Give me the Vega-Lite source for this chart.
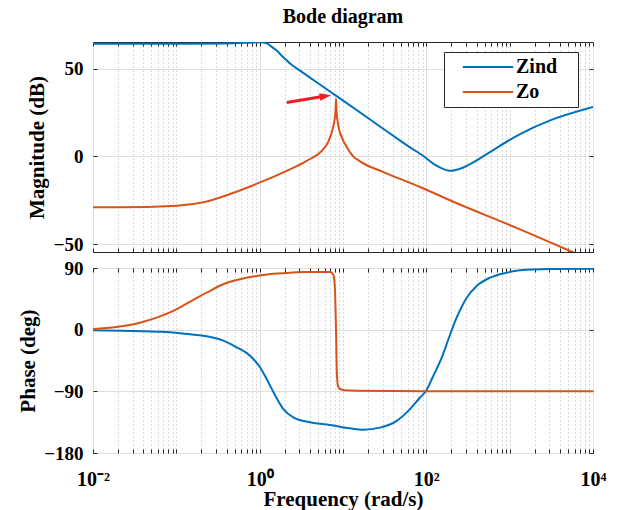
{
  "$schema": "https://vega.github.io/schema/vega-lite/v6.json",
  "padding": {"left": 17, "top": 6, "right": 15, "bottom": 0},
  "background": "white",
  "config": {
    "view": {"stroke": "#262626", "strokeWidth": 1},
    "axis": {
      "domain": false,
      "labelFont": "Liberation Serif", "labelFontWeight": "bold", "labelFontSize": 19, "labelColor": "#000",
      "titleFont": "Liberation Serif", "titleFontWeight": "bold", "titleFontSize": 21, "titleColor": "#000",
      "tickColor": "#262626", "tickSize": -4, "gridColor": "#dfdfdf", "gridWidth": 1
    },
    "line": {"strokeWidth": 2}
  },
  "datasets": {
    "mag": [
      {"f": 0.01, "db": 64.1, "s": "Zind"}, {"f": 0.1, "db": 64.1, "s": "Zind"}, {"f": 0.394, "db": 64.3, "s": "Zind"},
      {"f": 0.766, "db": 64.7, "s": "Zind"}, {"f": 1.0, "db": 64.9, "s": "Zind"}, {"f": 1.213, "db": 64.4, "s": "Zind"},
      {"f": 1.368, "db": 62.7, "s": "Zind"}, {"f": 1.6, "db": 60.2, "s": "Zind"}, {"f": 1.923, "db": 56.4, "s": "Zind"},
      {"f": 2.377, "db": 52.4, "s": "Zind"}, {"f": 3.048, "db": 48.8, "s": "Zind"}, {"f": 4.831, "db": 42.2, "s": "Zind"},
      {"f": 7.656, "db": 35.6, "s": "Zind"}, {"f": 12.13, "db": 29.0, "s": "Zind"}, {"f": 23.12, "db": 19.7, "s": "Zind"},
      {"f": 36.64, "db": 13.0, "s": "Zind"}, {"f": 58.07, "db": 6.4, "s": "Zind"}, {"f": 92.04, "db": 0.2, "s": "Zind"},
      {"f": 133.0, "db": -5.3, "s": "Zind"}, {"f": 192.3, "db": -8.2, "s": "Zind"}, {"f": 278.0, "db": -6.3, "s": "Zind"},
      {"f": 366.4, "db": -3.4, "s": "Zind"}, {"f": 529.7, "db": 1.3, "s": "Zind"}, {"f": 1330, "db": 12.7, "s": "Zind"},
      {"f": 3342, "db": 21.2, "s": "Zind"}, {"f": 10000, "db": 28.2, "s": "Zind"},
      {"f": 0.01, "db": -29.0, "s": "Zo"}, {"f": 0.0211, "db": -29.0, "s": "Zo"}, {"f": 0.101, "db": -28.1, "s": "Zo"},
      {"f": 0.211, "db": -26.1, "s": "Zo"}, {"f": 0.441, "db": -21.4, "s": "Zo"}, {"f": 1.009, "db": -14.8, "s": "Zo"},
      {"f": 2.109, "db": -8.2, "s": "Zo"}, {"f": 3.664, "db": -2.5, "s": "Zo"}, {"f": 5.808, "db": 4.1, "s": "Zo"},
      {"f": 6.607, "db": 8.0, "s": "Zo"}, {"f": 7.31, "db": 13.6, "s": "Zo"}, {"f": 7.8, "db": 19.0, "s": "Zo"},
      {"f": 8.02, "db": 23.0, "s": "Zo"}, {"f": 8.17, "db": 28.0, "s": "Zo"}, {"f": 8.24, "db": 32.7, "s": "Zo"},
      {"f": 8.36, "db": 26.0, "s": "Zo"}, {"f": 8.71, "db": 18.5, "s": "Zo"}, {"f": 9.64, "db": 11.0, "s": "Zo"},
      {"f": 11.07, "db": 5.5, "s": "Zo"}, {"f": 12.1, "db": 2.4, "s": "Zo"}, {"f": 13.18, "db": 0.2, "s": "Zo"},
      {"f": 16.0, "db": -2.8, "s": "Zo"}, {"f": 30.5, "db": -8.9, "s": "Zo"}, {"f": 84, "db": -17.4, "s": "Zo"},
      {"f": 211, "db": -25.8, "s": "Zo"}, {"f": 1330, "db": -41.5, "s": "Zo"}, {"f": 5058, "db": -53.4, "s": "Zo"},
      {"f": 10000, "db": -59.4, "s": "Zo"}
    ],
    "phase": [
      {"f": 0.01, "deg": -1.0, "s": "Zind"}, {"f": 0.058, "deg": -3.0, "s": "Zind"}, {"f": 0.084, "deg": -3.8, "s": "Zind"},
      {"f": 0.146, "deg": -6.7, "s": "Zind"}, {"f": 0.211, "deg": -8.8, "s": "Zind"}, {"f": 0.366, "deg": -16, "s": "Zind"},
      {"f": 0.53, "deg": -25.7, "s": "Zind"}, {"f": 0.766, "deg": -38, "s": "Zind"}, {"f": 1.01, "deg": -54.9, "s": "Zind"},
      {"f": 1.213, "deg": -72, "s": "Zind"}, {"f": 1.459, "deg": -91, "s": "Zind"}, {"f": 1.923, "deg": -115.8, "s": "Zind"},
      {"f": 2.535, "deg": -127.9, "s": "Zind"}, {"f": 4.02, "deg": -135.2, "s": "Zind"}, {"f": 6.98, "deg": -139.1, "s": "Zind"},
      {"f": 12.13, "deg": -144, "s": "Zind"}, {"f": 17.54, "deg": -146, "s": "Zind"}, {"f": 27.8, "deg": -143, "s": "Zind"},
      {"f": 44.1, "deg": -133, "s": "Zind"}, {"f": 63.7, "deg": -116, "s": "Zind"}, {"f": 84, "deg": -99, "s": "Zind"},
      {"f": 99, "deg": -89.5, "s": "Zind"}, {"f": 121, "deg": -67.6, "s": "Zind"}, {"f": 153, "deg": -40.9, "s": "Zind"},
      {"f": 184, "deg": -14, "s": "Zind"}, {"f": 231, "deg": 17.5, "s": "Zind"}, {"f": 305, "deg": 46.7, "s": "Zind"},
      {"f": 402, "deg": 63.8, "s": "Zind"}, {"f": 581, "deg": 75.9, "s": "Zind"}, {"f": 920, "deg": 83.2, "s": "Zind"},
      {"f": 1330, "deg": 86.7, "s": "Zind"}, {"f": 3048, "deg": 88.6, "s": "Zind"}, {"f": 10000, "deg": 89, "s": "Zind"},
      {"f": 0.01, "deg": 0.8, "s": "Zo"}, {"f": 0.0192, "deg": 3.9, "s": "Zo"}, {"f": 0.0366, "deg": 10.2, "s": "Zo"},
      {"f": 0.058, "deg": 17.5, "s": "Zo"}, {"f": 0.092, "deg": 27.3, "s": "Zo"}, {"f": 0.146, "deg": 40.9, "s": "Zo"},
      {"f": 0.231, "deg": 54, "s": "Zo"}, {"f": 0.366, "deg": 66.3, "s": "Zo"}, {"f": 0.581, "deg": 73.6, "s": "Zo"},
      {"f": 0.92, "deg": 78.4, "s": "Zo"}, {"f": 1.6, "deg": 81.8, "s": "Zo"}, {"f": 2.31, "deg": 83.2, "s": "Zo"},
      {"f": 3.5, "deg": 84, "s": "Zo"}, {"f": 5.3, "deg": 84.3, "s": "Zo"}, {"f": 6.98, "deg": 84.2, "s": "Zo"},
      {"f": 7.66, "deg": 80, "s": "Zo"}, {"f": 8.0, "deg": 60, "s": "Zo"}, {"f": 8.24, "deg": 0, "s": "Zo"},
      {"f": 8.45, "deg": -65, "s": "Zo"}, {"f": 8.7, "deg": -82, "s": "Zo"}, {"f": 9.2, "deg": -86.5, "s": "Zo"},
      {"f": 10.5, "deg": -88.5, "s": "Zo"}, {"f": 14.6, "deg": -89.3, "s": "Zo"}, {"f": 100, "deg": -90, "s": "Zo"},
      {"f": 10000, "deg": -90, "s": "Zo"}
    ],
    "arrow": [
      {"f": 2.11, "db": 30.7, "part": "shaft"}, {"f": 5.45, "db": 33.9, "part": "shaft"},
      {"f": 6.15, "db": 34.3, "part": "head"}
    ]
  },
  "bounds": "flush",
  "spacing": 16,
  "resolve": {"scale": {"color": "independent"}},
  "vconcat": [
    {
      "width": 500, "height": 210,
      "title": {"text": "Bode diagram", "font": "Liberation Serif", "fontSize": 20, "fontWeight": "bold", "anchor": "middle", "offset": 15, "color": "#000"},
      "layer": [
        {
          "data": {"name": "mag"}, "transform": [{"filter": "datum.s === 'Zind'"}],
          "mark": {"type": "line", "clip": true, "interpolate": "monotone"},
          "encoding": {
            "x": {"field": "f", "type": "quantitative", "scale": {"type": "log", "domain": [0.01, 10000]},
              "axis": {"values": [0.01,0.02,0.03,0.04,0.05,0.06,0.07,0.08,0.09,0.1,0.2,0.3,0.4,0.5,0.6,0.7,0.8,0.9,1,2,3,4,5,6,7,8,9,10,20,30,40,50,60,70,80,90,100,200,300,400,500,600,700,800,900,1000,2000,3000,4000,5000,6000,7000,8000,9000,10000],
                "labels": false, "title": null, "minExtent": 0, "maxExtent": 0,
                "gridDash": {"condition": {"test": "datum.value === 0.01 || datum.value === 1 || datum.value === 100 || datum.value === 10000", "value": []}, "value": [1, 3]},
                "gridColor": {"condition": {"test": "datum.value === 0.01 || datum.value === 1 || datum.value === 100 || datum.value === 10000", "value": "#dfdfdf"}, "value": "#b5b5b5"}}},
            "y": {"field": "db", "type": "quantitative", "scale": {"domain": [-54.4, 65.1], "nice": false, "zero": false},
              "axis": {"values": [-50, 0, 50], "title": "Magnitude (dB)", "labelPadding": 14, "titlePadding": 6}},
            "color": {"field": "s", "type": "nominal", "scale": {"domain": ["Zind", "Zo"], "range": ["#0072BD", "#D95319"]},
              "legend": {"title": null, "orient": "none", "legendX": 351, "legendY": 10, "symbolType": "M-2.8,0H2.8", "symbolSize": 324, "symbolStrokeWidth": 2,
                "labelFont": "Liberation Serif", "labelFontWeight": "bold", "labelFontSize": 20, "labelColor": "#000",
                "strokeColor": "#262626", "fillColor": "#ffffff", "padding": 5, "rowPadding": 5, "symbolOffset": 29, "labelOffset": 18,
                "labelExpr": "datum.label + '\u2800'"}}
          }
        },
        {
          "data": {"name": "mag"}, "transform": [{"filter": "datum.s === 'Zo'"}],
          "mark": {"type": "line", "clip": true, "interpolate": "monotone"},
          "encoding": {
            "x": {"field": "f", "type": "quantitative", "axis": {"orient": "top", "values": [0.01,0.02,0.03,0.04,0.05,0.06,0.07,0.08,0.09,0.1,0.2,0.3,0.4,0.5,0.6,0.7,0.8,0.9,1,2,3,4,5,6,7,8,9,10,20,30,40,50,60,70,80,90,100,200,300,400,500,600,700,800,900,1000,2000,3000,4000,5000,6000,7000,8000,9000,10000], "labels": false, "grid": false, "title": null, "minExtent": 0, "maxExtent": 0}},
            "y": {"field": "db", "type": "quantitative", "axis": {"orient": "right", "values": [-50, 0, 50], "labels": false, "grid": false, "title": null, "minExtent": 0, "maxExtent": 0}},
            "color": {"field": "s", "type": "nominal", "scale": {"domain": ["Zind", "Zo"], "range": ["#0072BD", "#D95319"]},
              "legend": {"title": null, "orient": "none", "legendX": 351, "legendY": 10, "symbolType": "M-2.8,0H2.8", "symbolSize": 324, "symbolStrokeWidth": 2,
                "labelFont": "Liberation Serif", "labelFontWeight": "bold", "labelFontSize": 20, "labelColor": "#000",
                "strokeColor": "#262626", "fillColor": "#ffffff", "padding": 5, "rowPadding": 5, "symbolOffset": 29, "labelOffset": 18,
                "labelExpr": "datum.label + '\u2800'"}}
          }
        },
        {
          "data": {"name": "arrow"}, "transform": [{"filter": "datum.part === 'shaft'"}],
          "mark": {"type": "line", "color": "#ee1c25", "strokeWidth": 3},
          "encoding": {
            "x": {"field": "f", "type": "quantitative", "axis": null},
            "y": {"field": "db", "type": "quantitative", "axis": null}
          }
        },
        {
          "data": {"name": "arrow"}, "transform": [{"filter": "datum.part === 'head'"}],
          "mark": {"type": "point", "shape": "M1,0L-1,-0.65L-1,0.65Z", "filled": true, "color": "#ee1c25", "opacity": 1, "size": 130, "angle": 351},
          "encoding": {
            "x": {"field": "f", "type": "quantitative", "axis": null},
            "y": {"field": "db", "type": "quantitative", "axis": null}
          }
        }
      ],
      "resolve": {"axis": {"x": "independent", "y": "independent"}}
    },
    {
      "width": 500, "height": 185,
      "layer": [
        {
          "data": {"name": "phase"}, "transform": [{"filter": "datum.s === 'Zind'"}],
          "mark": {"type": "line", "color": "#0072BD", "clip": true, "interpolate": "monotone"},
          "encoding": {
            "x": {"field": "f", "type": "quantitative", "scale": {"type": "log", "domain": [0.01, 10000]},
              "axis": {"values": [0.01,0.02,0.03,0.04,0.05,0.06,0.07,0.08,0.09,0.1,0.2,0.3,0.4,0.5,0.6,0.7,0.8,0.9,1,2,3,4,5,6,7,8,9,10,20,30,40,50,60,70,80,90,100,200,300,400,500,600,700,800,900,1000,2000,3000,4000,5000,6000,7000,8000,9000,10000],
                "labelExpr": "datum.value === 0.01 ? '10⁻²' : datum.value === 1 ? '10⁰' : datum.value === 100 ? '10²' : datum.value === 10000 ? '10⁴' : ''",
                "labelFlush": false, "labelOverlap": false, "labelPadding": 20, "labelFontSize": 20,
                "title": "Frequency (rad/s)", "titlePadding": -1,
                "gridDash": {"condition": {"test": "datum.value === 0.01 || datum.value === 1 || datum.value === 100 || datum.value === 10000", "value": []}, "value": [1, 3]},
                "gridColor": {"condition": {"test": "datum.value === 0.01 || datum.value === 1 || datum.value === 100 || datum.value === 10000", "value": "#dfdfdf"}, "value": "#b5b5b5"}}},
            "y": {"field": "deg", "type": "quantitative", "scale": {"domain": [-180, 90], "nice": false, "zero": false},
              "axis": {"values": [-180, -90, 0, 90], "title": "Phase (deg)", "labelPadding": 14, "titlePadding": 5}}
          }
        },
        {
          "data": {"name": "phase"}, "transform": [{"filter": "datum.s === 'Zo'"}],
          "mark": {"type": "line", "color": "#D95319", "clip": true, "interpolate": "monotone"},
          "encoding": {
            "x": {"field": "f", "type": "quantitative", "axis": {"orient": "top", "values": [0.01,0.02,0.03,0.04,0.05,0.06,0.07,0.08,0.09,0.1,0.2,0.3,0.4,0.5,0.6,0.7,0.8,0.9,1,2,3,4,5,6,7,8,9,10,20,30,40,50,60,70,80,90,100,200,300,400,500,600,700,800,900,1000,2000,3000,4000,5000,6000,7000,8000,9000,10000], "labels": false, "grid": false, "title": null, "minExtent": 0, "maxExtent": 0}},
            "y": {"field": "deg", "type": "quantitative", "axis": {"orient": "right", "values": [-180, -90, 0, 90], "labels": false, "grid": false, "title": null, "minExtent": 0, "maxExtent": 0}}
          }
        }
      ],
      "resolve": {"axis": {"x": "independent", "y": "independent"}}
    }
  ]
}
